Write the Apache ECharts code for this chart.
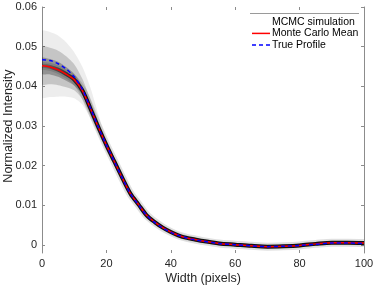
<!DOCTYPE html>
<html><head><meta charset="utf-8">
<script src="https://cdn.jsdelivr.net/npm/echarts@6/dist/echarts.min.js"></script>
<style>html,body{margin:0;padding:0;background:#fff}#c{width:374px;height:287px}</style>
</head><body><div id="c"></div>
<script>
// ---- data ----
const widthPx = [0,2.5,5,7.5,10,12.5,15,17.5,20,22.5,25,27.5,30,32.5,35,37.5,40,42.5,45,47.5,50,55,60,65,70,75,80,85,90,95,100];
const monteCarloMean = [0.0452,0.0449,0.0442,0.0431,0.0417,0.0390,0.0345,0.0297,0.0252,0.0210,0.0168,0.0129,0.0102,0.0075,0.0058,0.0044,0.0033,0.0024,0.0018,0.0014,0.0010,0.0004,0.0001,-0.0002,-0.0004,-0.0003,-0.0001,0.0003,0.0006,0.0006,0.0005];
const trueProfile = [0.0467,0.0465,0.0457,0.0444,0.0424,0.0393,0.0346,0.0297,0.0252,0.0210,0.0168,0.0129,0.0101,0.0075,0.0057,0.0043,0.0032,0.0024,0.0018,0.0013,0.0010,0.0004,0.0001,-0.0002,-0.0004,-0.0003,-0.0001,0.0002,0.0005,0.0005,0.0004];
// MCMC sample envelopes (outer, middle, inner)
const mcmcOuterHi = [0.0540,0.0537,0.0528,0.0511,0.0486,0.0450,0.0398,0.0330,0.0268,0.0220,0.0176,0.0136,0.0108,0.0081,0.0064,0.0050,0.0040,0.0031,0.0025,0.0020,0.0016,0.0010,0.0006,0.0003,0.0001,0.0002,0.0004,0.0008,0.0011,0.0011,0.0010];
const mcmcOuterLo = [0.0372,0.0373,0.0374,0.0374,0.0370,0.0354,0.0320,0.0278,0.0236,0.0200,0.0160,0.0122,0.0096,0.0069,0.0052,0.0038,0.0026,0.0017,0.0011,0.0008,0.0004,-0.0001,-0.0004,-0.0007,-0.0009,-0.0008,-0.0006,-0.0002,0.0001,0.0001,0.0000];
const mcmcMidHi = [0.0500,0.0497,0.0490,0.0476,0.0456,0.0420,0.0368,0.0312,0.0260,0.0215,0.0172,0.0132,0.0105,0.0078,0.0061,0.0047,0.0036,0.0027,0.0021,0.0017,0.0013,0.0007,0.0004,0.0001,-0.0001,0.0000,0.0002,0.0006,0.0009,0.0009,0.0008];
const mcmcMidLo = [0.0405,0.0405,0.0403,0.0398,0.0390,0.0368,0.0327,0.0284,0.0243,0.0205,0.0164,0.0126,0.0099,0.0072,0.0055,0.0041,0.0030,0.0021,0.0015,0.0011,0.0007,0.0001,-0.0002,-0.0005,-0.0007,-0.0006,-0.0004,0.0000,0.0003,0.0003,0.0002];
const mcmcInnerHi = [0.0472,0.0469,0.0462,0.0449,0.0432,0.0401,0.0353,0.0302,0.0255];
const mcmcInnerLo = [0.0432,0.0430,0.0424,0.0414,0.0402,0.0379,0.0337,0.0292,0.0249];
const xTicks = [0,20,40,60,80,100];
const yTicks = [0,0.01,0.02,0.03,0.04,0.05,0.06];
const legendNames = ['MCMC simulation','Monte Carlo Mean','True Profile'];

// ---- build ----
const pairs = (ys) => ys.map((y,i)=>[widthPx[i], y]);
const FONT = 'Liberation Sans, Arial, Helvetica, sans-serif';
const AX = '#8c8c8c';
const TXT = '#262626';

function band(hi, lo, color, name) {
  return {
    type:'custom', name, xAxisIndex:1, yAxisIndex:1, data:[[0,0]], silent:true, clip:true,
    renderItem:(params, api) => {
      const pts = [];
      for (let i=0;i<hi.length;i++) pts.push(api.coord([widthPx[i], hi[i]]));
      for (let i=lo.length-1;i>=0;i--) pts.push(api.coord([widthPx[i], lo[i]]));
      return {type:'polygon', shape:{points:pts, smooth:0.25}, style:{fill:color, stroke:null}};
    }
  };
}

const series = [
  band(mcmcOuterHi, mcmcOuterLo, 'rgba(0,0,0,0.07)', legendNames[0]),
  band(mcmcMidHi, mcmcMidLo, 'rgba(0,0,0,0.17)', 'mcmc-mid'),
  band(mcmcInnerHi, mcmcInnerLo, 'rgba(0,0,0,0.25)', 'mcmc-inner'),
  {type:'line', name:'halo', xAxisIndex:1, yAxisIndex:1, data:pairs(monteCarloMean), smooth:0.3, symbol:'none',
   lineStyle:{width:8, color:'rgba(0,0,0,0.12)'}, silent:true},
  {type:'line', name:'core', xAxisIndex:1, yAxisIndex:1, data:pairs(monteCarloMean), smooth:0.3, symbol:'none',
   lineStyle:{width:4, color:{type:'linear', x:42, y:0, x2:85, y2:0, global:true,
     colorStops:[{offset:0,color:'rgba(0,0,0,0.15)'},{offset:1,color:'#111'}]}}, silent:true},
  {type:'line', name:legendNames[1], xAxisIndex:1, yAxisIndex:1, data:pairs(monteCarloMean), smooth:0.3, symbol:'none',
   lineStyle:{width:1.5, color:'#ff0000'}, itemStyle:{color:'#ff0000'}},
  {type:'line', name:legendNames[2], xAxisIndex:1, yAxisIndex:1, data:pairs(trueProfile), smooth:0.3, symbol:'none',
   lineStyle:{width:1.5, color:'#0000ff', type:[4,3]}, itemStyle:{color:'#0000ff'}}
];

const legendRows = [21.7, 33.4, 45.1];
const legendGraphics = [
  {type:'line', shape:{x1:250, y1:13.5, x2:359, y2:13.5}, style:{stroke:'#9a9a9a', lineWidth:1}, z:100},
  {type:'line', shape:{x1:252, y1:legendRows[1], x2:270, y2:legendRows[1]}, style:{stroke:'#ff0000', lineWidth:1.5}, z:100},
  {type:'line', shape:{x1:252, y1:legendRows[2], x2:270, y2:legendRows[2]}, style:{stroke:'#0000ff', lineWidth:1.5, lineDash:[4,3]}, z:100}
].concat(legendNames.map((t,i)=>({
  type:'text', x:272, y:legendRows[i], z:100,
  style:{text:t, fill:'#000', font:'10.5px '+FONT, textVerticalAlign:'middle', textAlign:'left'}
})));

const dataH = 246, labelH = dataH * 0.06 / 0.062;
const chart = echarts.init(document.getElementById('c'), null, {renderer:'canvas'});
chart.setOption({
  animation:false,
  backgroundColor:'#fff',
  textStyle:{fontFamily:FONT},
  grid:[
    {left:42, right:10, top:7, height:labelH, containLabel:false, outerBoundsMode:'none'},
    {left:42, right:10, top:7, height:dataH, containLabel:false, outerBoundsMode:'none'}
  ],
  xAxis:[
    {gridIndex:0, type:'value', min:0, max:100, show:false},
    {gridIndex:1, type:'value', min:xTicks[0], max:xTicks[xTicks.length-1], interval:20, position:'bottom',
     axisLine:{show:false, onZero:false}, splitLine:{show:false},
     axisTick:{show:true, inside:true, length:3, lineStyle:{color:AX}},
     axisLabel:{color:TXT, fontSize:11, margin:5, fontFamily:FONT},
     name:'Width (pixels)', nameLocation:'middle', nameGap:19, nameMoveOverlap:false,
     nameTextStyle:{color:TXT, fontSize:12.5, fontFamily:FONT}},
    {gridIndex:1, type:'value', min:0, max:100, interval:20, position:'top',
     axisLine:{show:false, onZero:false}, splitLine:{show:false},
     axisTick:{show:true, inside:true, length:3, lineStyle:{color:AX}}, axisLabel:{show:false}}
  ],
  yAxis:[
    {gridIndex:0, type:'value', min:yTicks[0], max:yTicks[yTicks.length-1], interval:0.01, position:'left',
     axisLine:{show:false, onZero:false}, splitLine:{show:false},
     axisTick:{show:true, inside:true, length:3, lineStyle:{color:AX}},
     axisLabel:{color:TXT, fontSize:11, margin:5, fontFamily:FONT,
       formatter:(v)=> Math.abs(v)<1e-9 ? '0' : v.toFixed(2)},
     name:'Normalized Intensity', nameLocation:'middle', nameGap:27, nameMoveOverlap:false,
     nameTextStyle:{color:TXT, fontSize:12.5, fontFamily:FONT}},
    {gridIndex:1, type:'value', min:-0.002, max:0.06, position:'left',
     axisLine:{show:true, onZero:false, lineStyle:{color:AX, width:1}}, splitLine:{show:false},
     axisTick:{show:false}, axisLabel:{show:false}},
    {gridIndex:1, type:'value', min:-0.002, max:0.06, position:'right',
     axisLine:{show:true, onZero:false, lineStyle:{color:AX, width:1}}, splitLine:{show:false},
     axisTick:{show:false}, axisLabel:{show:false}},
    {gridIndex:0, type:'value', min:0, max:0.06, interval:0.01, position:'right',
     axisLine:{show:false, onZero:false}, splitLine:{show:false},
     axisTick:{show:true, inside:true, length:3, lineStyle:{color:AX}}, axisLabel:{show:false}}
  ],
  graphic: legendGraphics,
  series
});
</script></body></html>
